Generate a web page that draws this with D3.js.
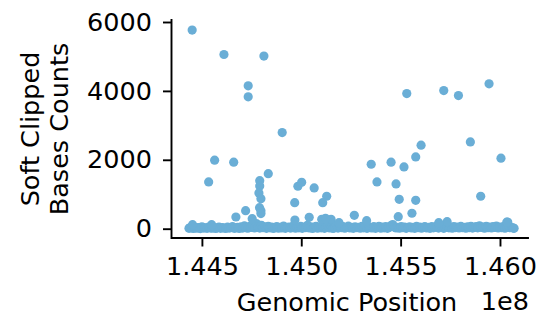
<!DOCTYPE html>
<html><head><meta charset="utf-8">
<script src="https://cdn.jsdelivr.net/npm/d3@7"></script>
<style>
html,body{margin:0;padding:0;background:#fff;}
text{font-family:"DejaVu Sans",sans-serif;fill:#000;}
</style></head>
<body>
<svg id="c" width="538" height="321"></svg>
<script>
// Outlier points (genomic position, soft clipped bases count)
const outlierPos = [144451000,144611000,144812000,144733000,144733000,144904000,145531000,145717000,145791000,145945000,
 144564000,144660000,144534000,144834000,144791000,144791000,144787000,144797000,144983000,145002000,
 145065000,145128000,145108000,144967000,144720000,144797000,144671000,144753000,144968000,145040000,
 145103000,145150000,145190000,144549000,144453000,145352000,145452000,145517000,145576000,145603000,
 145851000,146005000,145381000,145477000,145493000,145576000,145903000,145557000,145488000,145267000,
 145329000,145734000,146039000,145692000,144797000,145122000,146034000,144790000];
const outlierCount = [5765,5056,5010,4147,3827,2790,3923,4010,3865,4205,
 1988,1930,1357,1598,1395,1241,1037,872,1232,1348,
 1183,942,756,756,523,523,340,290,253,331,
 273,273,174,116,116,1871,1930,1793,2084,2424,
 2520,2046,1357,1299,854,825,942,448,349,389,
 232,203,195,174,440,300,190,610];

// Dense baseline points (position in kb, count)
const basePosKb = [144435,144441,144449,144458,144466,144475,144483,144492,144500,144509,144517,144526,144534,144543,144551,144560,144569,144577,144586,144594,
 144603,144611,144620,144629,144637,144646,144654,144663,144671,144680,144688,144697,144705,144714,144722,144731,144740,144748,144757,144765,
 144774,144782,144791,144800,144808,144817,144825,144834,144843,144851,144860,144868,144877,144885,144894,144902,144911,144920,144928,144937,
 144945,144954,144962,144971,144980,144988,144997,145005,145014,145022,145031,145040,145048,145057,145065,145074,145082,145091,145100,145108,
 145117,145125,145134,145142,145151,145160,145168,145177,145185,145194,145202,145211,145219,145228,145237,145245,145254,145262,145271,145280,
 145288,145297,145305,145314,145322,145331,145340,145348,145357,145365,145374,145383,145391,145400,145408,145417,145425,145434,145442,145451,
 145460,145468,145477,145485,145494,145503,145511,145520,145528,145537,145545,145554,145563,145571,145580,145588,145597,145605,145614,145622,
 145631,145640,145648,145657,145665,145674,145683,145691,145700,145708,145717,145725,145734,145743,145751,145760,145768,145777,145785,145794,
 145803,145811,145820,145828,145837,145845,145854,145862,145871,145880,145888,145897,145905,145914,145922,145931,145940,145948,145957,145965,
 145974,145982,145991,146000,146008,146017,146025,146034,146043,146051,146060,146067,146071];
const baseCount = [12,35,20,8,42,15,30,5,55,18,27,10,48,22,14,38,6,25,50,12,
 33,20,9,45,17,30,60,11,24,40,7,52,19,80,28,14,65,35,110,22,
 150,40,18,95,30,55,12,70,26,45,9,38,60,15,42,22,75,10,35,50,
 18,28,90,14,40,24,65,12,48,30,100,20,55,8,36,70,16,44,25,60,
 12,38,80,20,50,9,30,110,18,45,27,60,14,35,72,20,42,10,55,28,
 40,15,65,24,90,12,46,30,20,58,10,36,70,16,44,25,60,12,38,85,
 120,50,22,40,14,62,28,45,10,35,55,20,40,12,66,30,48,15,36,58,
 22,42,10,60,26,45,80,18,38,55,12,44,70,25,50,14,62,32,48,20,
 65,30,42,15,55,28,70,18,40,60,25,85,35,50,14,68,30,45,20,58,
 36,75,22,48,30,60,16,42,95,28,35,18,10];

const yTicks = [0,2000,4000,6000];
const xTicks = [144500000,145000000,145500000,146000000];
const xTickLabels = ["1.445","1.450","1.455","1.460"];

const points = basePosKb.map((p,i)=>({pos:p*1000, count:baseCount[i]}))
  .concat(outlierPos.map((p,i)=>({pos:p, count:outlierCount[i]})));

const svg = d3.select("#c");
const L=171.5, R=528, T=20, B=238;
const x = d3.scaleLinear().domain([144347000,146141000]).range([L,R]);
const y = d3.scaleLinear().domain([-270,6058]).range([B,T]);
const fs = 25.5;
const color = "#6aaed6";

svg.append("g").selectAll("circle").data(points).join("circle")
  .attr("cx",d=>x(d.pos)).attr("cy",d=>y(d.count)).attr("r",4.6)
  .attr("fill",color);

const ya = svg.append("g").attr("transform",`translate(${L},0)`)
  .call(d3.axisLeft(y).tickValues(yTicks).tickSize(8.5).tickPadding(11).tickFormat(d3.format("d")));
const xa = svg.append("g").attr("transform",`translate(0,${B})`)
  .call(d3.axisBottom(x).tickValues(xTicks).tickSize(8.5).tickPadding(10).tickFormat((d,i)=>xTickLabels[i]));
[ya,xa].forEach(g=>{
  g.select(".domain").remove();
  g.selectAll(".tick line").attr("stroke","#000").attr("stroke-width",1.9);
  g.selectAll(".tick text").attr("font-size",fs).attr("font-family","DejaVu Sans").attr("fill","#000");
});
svg.append("path").attr("d",`M${L},${T}V${B}H${R}`).attr("fill","none")
  .attr("stroke","#000").attr("stroke-width",1.9).attr("stroke-linecap","square");

svg.append("text").attr("x",347).attr("y",311).attr("text-anchor","middle")
  .attr("font-size",fs).text("Genomic Position");
svg.append("text").attr("x",529).attr("y",310).attr("text-anchor","end")
  .attr("font-size",fs).text("1e8");
const yl = svg.append("text").attr("transform","translate(39,129) rotate(-90)")
  .attr("text-anchor","middle").attr("font-size",fs);
yl.append("tspan").attr("x",0).attr("y",0).text("Soft Clipped");
yl.append("tspan").attr("x",0).attr("y",29).text("Bases Counts");
</script>
</body></html>
